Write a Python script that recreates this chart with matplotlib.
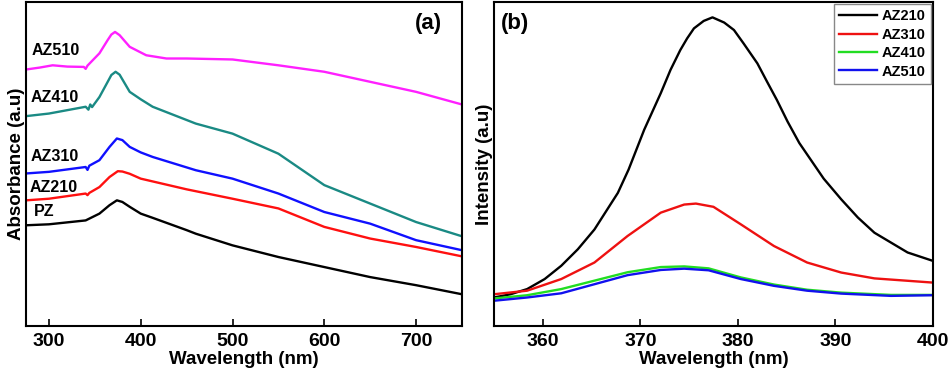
import numpy as np
import matplotlib.pyplot as plt

plt.rcParams['font.family'] = ['Liberation Sans', 'DejaVu Sans']
plt.rcParams['font.weight'] = 'bold'

# (a) UV-vis absorbance, arbitrary units
wl_pz = [275, 300, 340, 355, 366, 374, 380, 388, 400, 413, 450, 460, 500, 550, 600, 650, 700, 750]
pz = [0.311, 0.314, 0.326, 0.347, 0.373, 0.388, 0.383, 0.368, 0.347, 0.334, 0.296, 0.285, 0.249, 0.213, 0.182,
      0.151, 0.126, 0.098]

wl_210 = [275, 300, 340, 342, 344, 355, 366, 375, 380, 388, 400, 450, 500, 550, 600, 650, 700, 750]
az210 = [0.388, 0.393, 0.409, 0.404, 0.411, 0.429, 0.460, 0.478, 0.477, 0.470, 0.455, 0.422, 0.393, 0.363, 0.306,
         0.270, 0.244, 0.215]

wl_310 = [275, 300, 340, 342, 344, 355, 366, 374, 380, 388, 400, 413, 460, 500, 550, 600, 650, 700, 750]
az310 = [0.471, 0.476, 0.491, 0.482, 0.495, 0.512, 0.553, 0.579, 0.574, 0.553, 0.536, 0.522, 0.481, 0.455, 0.409,
         0.352, 0.316, 0.265, 0.234]

wl_410 = [275, 300, 340, 343, 345, 347, 355, 364, 368, 372.6, 377, 388, 400, 413, 460, 500, 550, 600, 650, 700, 750]
az410 = [0.648, 0.656, 0.677, 0.668, 0.684, 0.676, 0.707, 0.754, 0.775, 0.785, 0.776, 0.723, 0.700, 0.677, 0.625,
         0.594, 0.532, 0.435, 0.378, 0.321, 0.277]

wl_510 = [275, 290, 304, 320, 338, 340, 342, 355, 364, 368, 372, 377, 388, 406, 428, 450, 500, 550, 600, 650, 700, 750]
az510 = [0.792, 0.798, 0.805, 0.801, 0.800, 0.794, 0.804, 0.842, 0.883, 0.900, 0.908, 0.898, 0.862, 0.836, 0.826,
         0.826, 0.823, 0.805, 0.785, 0.754, 0.723, 0.684]

# (b) PL intensity, arbitrary units
wl_b210 = [355, 356.7, 358.4, 360.2, 361.9, 363.6, 365.3, 367.7, 368.8, 370.4, 372.1, 373.1, 374.1, 374.8, 375.5,
           376.5, 377.4, 378.6, 379.6, 380.6, 382.0, 383.0, 384.0, 385.1, 386.3, 388.8, 390.6, 392.3, 394.0,
           397.4, 400]
pl210 = [0.088, 0.098, 0.114, 0.145, 0.186, 0.237, 0.298, 0.411, 0.483, 0.606, 0.719, 0.791, 0.852, 0.888, 0.919,
         0.942, 0.953, 0.937, 0.914, 0.872, 0.811, 0.754, 0.698, 0.631, 0.565, 0.455, 0.391, 0.335, 0.288,
         0.227, 0.201]

wl_b310 = [355, 358.4, 361.9, 365.3, 368.7, 372.1, 374.5, 375.7, 377.5, 380.3, 383.7, 387.1, 390.6, 394.0, 400]
pl310 = [0.098, 0.109, 0.145, 0.196, 0.278, 0.350, 0.375, 0.378, 0.368, 0.314, 0.247, 0.196, 0.165, 0.147, 0.134]

wl_b = [355, 358.4, 361.9, 365.3, 368.7, 372.1, 374.5, 377.0, 380.3, 383.7, 387.1, 390.6, 395.7, 400]
pl410 = [0.085, 0.095, 0.114, 0.140, 0.166, 0.182, 0.184, 0.178, 0.150, 0.128, 0.112, 0.103, 0.096, 0.096]
pl510 = [0.078, 0.088, 0.101, 0.129, 0.157, 0.173, 0.177, 0.172, 0.145, 0.124, 0.109, 0.100, 0.093, 0.095]

fig = plt.figure(figsize=(9.49, 3.77), dpi=100)
ax1 = fig.add_axes([0.0274, 0.1353, 0.4594, 0.859])
ax2 = fig.add_axes([0.5205, 0.1353, 0.4626, 0.859])

lw = 1.7
ax1.plot(wl_pz, pz, color='black', lw=lw)
ax1.plot(wl_210, az210, color='#ff1010', lw=lw)
ax1.plot(wl_310, az310, color='#1010ff', lw=lw)
ax1.plot(wl_410, az410, color='#1a8a84', lw=lw)
ax1.plot(wl_510, az510, color='#ff20ff', lw=lw)

lab = dict(fontsize=11.5, fontweight='bold', va='center', ha='left')
ax1.text(281, 0.852, 'AZ510', **lab)
ax1.text(280, 0.705, 'AZ410', **lab)
ax1.text(280, 0.524, 'AZ310', **lab)
ax1.text(279, 0.429, 'AZ210', **lab)
ax1.text(284, 0.352, 'PZ', **lab)
ax1.text(713, 0.935, '(a)', fontsize=16, fontweight='bold', ha='center', va='center')
ax1.set_xlim(275, 750)
ax1.set_ylim(0, 1)
ax1.set_xticks([300, 400, 500, 600, 700])
ax1.set_xlabel('Wavelength (nm)', fontsize=13.5, fontweight='bold', labelpad=1)
ax1.set_ylabel('Absorbance (a.u)', fontsize=13.5, fontweight='bold', labelpad=1)

ax2.plot(wl_b210, pl210, color='black', lw=lw, label='AZ210')
ax2.plot(wl_b310, pl310, color='#ee1111', lw=lw, label='AZ310')
ax2.plot(wl_b, pl410, color='#22dd22', lw=lw, label='AZ410')
ax2.plot(wl_b, pl510, color='#1111ee', lw=lw, label='AZ510')
ax2.text(357.2, 0.935, '(b)', fontsize=16, fontweight='bold', ha='center', va='center')
ax2.set_xlim(355, 400)
ax2.set_ylim(0, 1)
ax2.set_xticks([360, 370, 380, 390, 400])
ax2.set_xlabel('Wavelength (nm)', fontsize=13.5, fontweight='bold', labelpad=1)
ax2.set_ylabel('Intensity (a.u)', fontsize=13.5, fontweight='bold', labelpad=1)
leg = ax2.legend(loc='upper right', fontsize=10.5, handlelength=2.6, handletextpad=0.3,
                 borderaxespad=0.15, labelspacing=0.3, fancybox=False, framealpha=1,
                 edgecolor='#888888', borderpad=0.35)
for t in leg.get_texts():
    t.set_fontweight('bold')

for ax in (ax1, ax2):
    ax.set_yticks([])
    ax.tick_params(axis='x', direction='in', length=5, width=1.2, labelsize=14, pad=5)
    for lbl in ax.get_xticklabels():
        lbl.set_fontweight('bold')
    for s in ax.spines.values():
        s.set_linewidth(1.5)

fig.savefig('out.png', dpi=100)
